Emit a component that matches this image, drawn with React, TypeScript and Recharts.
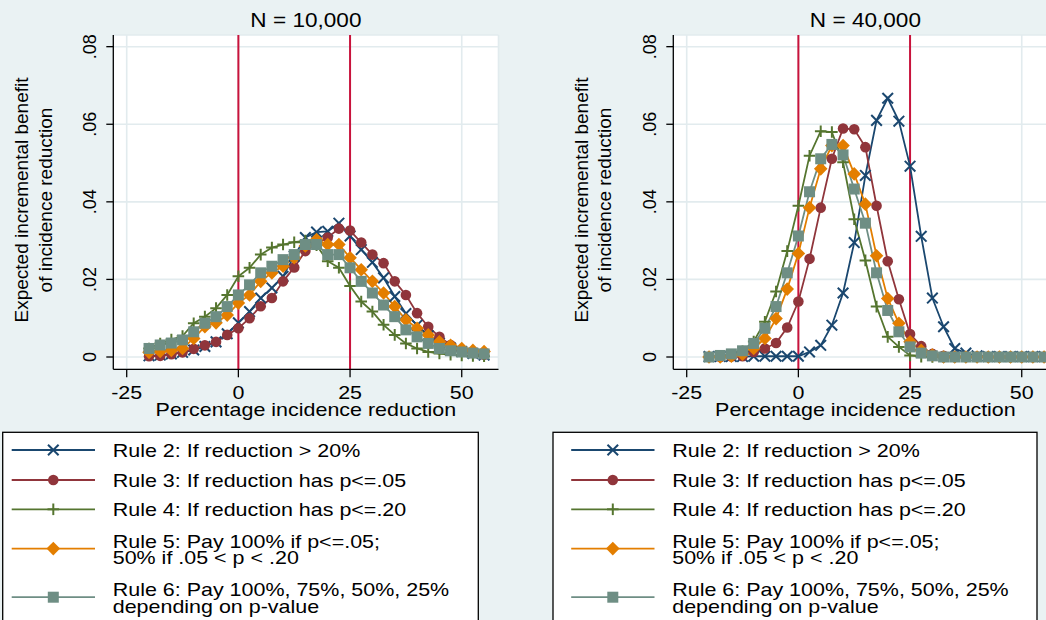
import React from "react";
import { LineChart, Line, XAxis, YAxis, CartesianGrid, ReferenceLine } from "recharts";

// ---------- data ----------
const xValues = [-20, -17.5, -15, -12.5, -10, -7.5, -5, -2.5, 0, 2.5, 5, 7.5, 10, 12.5, 15, 17.5, 20, 22.5, 25, 27.5, 30, 32.5, 35, 37.5, 40, 42.5, 45, 47.5, 50, 52.5, 55];

// N = 10,000
const n10Rule2 = [0.0003, 0.0005, 0.0008, 0.0012, 0.0018, 0.0027, 0.0039, 0.006, 0.0088, 0.0117, 0.0152, 0.0178, 0.0208, 0.026, 0.0308, 0.0322, 0.0324, 0.0345, 0.0312, 0.0277, 0.0244, 0.0204, 0.0156, 0.0112, 0.0082, 0.0055, 0.0036, 0.0023, 0.0014, 0.0009, 0.0005];
const n10Rule3 = [0.0002, 0.0003, 0.0007, 0.0012, 0.0021, 0.003, 0.0039, 0.0057, 0.0074, 0.01, 0.0131, 0.0152, 0.0195, 0.0231, 0.0273, 0.0292, 0.0308, 0.0331, 0.0326, 0.0295, 0.0264, 0.0242, 0.0195, 0.016, 0.0113, 0.0078, 0.0052, 0.0031, 0.0018, 0.0011, 0.0006];
const n10Rule4 = [0.0022, 0.0035, 0.0045, 0.0054, 0.0087, 0.0104, 0.0126, 0.016, 0.0208, 0.023, 0.0264, 0.0282, 0.029, 0.0296, 0.03, 0.0288, 0.0247, 0.023, 0.0183, 0.0143, 0.0117, 0.0083, 0.0057, 0.0035, 0.0022, 0.0013, 0.0009, 0.0006, 0.0004, 0.0003, 0.0002];
const n10Rule5 = [0.0012, 0.0014, 0.0017, 0.0022, 0.0048, 0.0078, 0.0088, 0.0108, 0.0139, 0.016, 0.0195, 0.0217, 0.0234, 0.0256, 0.0286, 0.0303, 0.029, 0.029, 0.0256, 0.0225, 0.0195, 0.0165, 0.013, 0.0096, 0.0074, 0.0057, 0.0039, 0.003, 0.0022, 0.0017, 0.0014];
const n10Rule6 = [0.0022, 0.0031, 0.0036, 0.0044, 0.0065, 0.0087, 0.0104, 0.013, 0.016, 0.0186, 0.0217, 0.0234, 0.0251, 0.0264, 0.029, 0.029, 0.0264, 0.0264, 0.023, 0.0195, 0.0165, 0.0134, 0.0104, 0.007, 0.0052, 0.0035, 0.0022, 0.0016, 0.0013, 0.001, 0.0008];

// N = 40,000
const n40Rule2 = [0.0001, 0.0001, 0.0001, 0.0001, 0.0002, 0.0002, 0.0002, 0.0002, 0.0002, 0.0013, 0.003, 0.0082, 0.0165, 0.0295, 0.0468, 0.061, 0.0667, 0.0608, 0.0492, 0.0311, 0.0152, 0.0078, 0.0022, 0.001, 0.0003, 0.0001, 0.0001, 0.0001, 0.0001, 0.0001, 0.0001];
const n40Rule3 = [0, 0, 0.0001, 0.0002, 0.0013, 0.0022, 0.0036, 0.0076, 0.0143, 0.0253, 0.0385, 0.0511, 0.0589, 0.0587, 0.0541, 0.039, 0.0247, 0.0149, 0.0059, 0.0028, 0.0008, 0.0003, 0.0001, 0.0001, 0.0001, 0, 0, 0, 0, 0, 0];
const n40Rule4 = [0, 0.0001, 0.0003, 0.0015, 0.004, 0.0091, 0.0169, 0.0273, 0.039, 0.0519, 0.0582, 0.058, 0.0502, 0.0355, 0.0249, 0.013, 0.0052, 0.0026, 0.0004, 0.0001, 0, 0, 0, 0, 0, 0, 0, 0, 0, 0, 0];
const n40Rule5 = [0, 0, 0.0002, 0.0007, 0.0022, 0.0048, 0.0099, 0.0175, 0.0267, 0.0385, 0.0485, 0.0545, 0.0545, 0.0472, 0.0394, 0.0261, 0.0151, 0.0087, 0.0039, 0.0017, 0.0005, 0, 0, 0, 0, 0, 0, 0, 0, 0, 0];
const n40Rule6 = [0, 0.0004, 0.0008, 0.0016, 0.0035, 0.0074, 0.013, 0.0217, 0.0312, 0.0426, 0.0511, 0.0548, 0.0521, 0.0433, 0.0345, 0.0217, 0.012, 0.0065, 0.0026, 0.001, 0.0003, 0, 0, 0, 0, 0, 0, 0, 0, 0, 0];

const xTicks = [-25, 0, 25, 50];
const xTickLabels = ["-25", "0", "25", "50"];
const yTicks = [0, 0.02, 0.04, 0.06, 0.08];
const yTickLabels = ["0", ".02", ".04", ".06", ".08"];
const referenceXs = [0, 25];

const panelTitles = ["N = 10,000", "N = 40,000"];
const xAxisTitle = "Percentage incidence reduction";
const yAxisTitleLines = ["Expected incremental benefit", "of incidence reduction"];

const seriesKeys = ["r2", "r3", "r4", "r5", "r6"];
const seriesColors = ["#1a476f", "#90353b", "#55752f", "#e37e00", "#6e8e84"];
const seriesMarkers = ["x", "circle", "plus", "diamond", "square"];
const legendLabels = [
  ["Rule 2: If reduction > 20%"],
  ["Rule 3: If reduction has p<=.05"],
  ["Rule 4: If reduction has p<=.20"],
  ["Rule 5: Pay 100% if p<=.05;", "50% if .05 < p < .20"],
  ["Rule 6: Pay 100%, 75%, 50%, 25%", "depending on p-value"],
];

// ---------- build tables ----------
function buildRows(s2: number[], s3: number[], s4: number[], s5: number[], s6: number[]) {
  return xValues.map((x, i) => ({ x, r2: s2[i], r3: s3[i], r4: s4[i], r5: s5[i], r6: s6[i] }));
}
const rows10 = buildRows(n10Rule2, n10Rule3, n10Rule4, n10Rule5, n10Rule6);
const rows40 = buildRows(n40Rule2, n40Rule3, n40Rule4, n40Rule5, n40Rule6);

// ---------- style / layout ----------
const FONT = '"Liberation Sans", Arial, Helvetica, sans-serif';
const SX = 1.13;
const BG = "#eaf2f3";
const GRID = "#e2ebee";
const REF = "#c8133c";
const CHART_W = 520;
const CHART_H = 440;
const PLOT_LEFT = 113.3;
const PLOT_RIGHT = 498.5;
const PLOT_TOP = 35;
const PLOT_BOTTOM = 369.3;
const X_MIN = -28.0;
const X_MAX = 58.23;
const Y_MIN = -0.00317;
const Y_MAX = 0.08301;
const PANEL_OFFSETS = [0, 559.5];
const LEGEND_BOXES = [
  { x: 2.7, w: 475.6 },
  { x: 553, w: 484 },
];

function renderMarker(kind: string, color: string, cx: number, cy: number, key: string) {
  if (cx == null || cy == null || isNaN(cx) || isNaN(cy)) return <g key={key} />;
  switch (kind) {
    case "x": {
      const s = 5.3;
      return (
        <g key={key}>
          <line x1={cx - s} y1={cy - s} x2={cx + s} y2={cy + s} stroke={color} strokeWidth={2} />
          <line x1={cx - s} y1={cy + s} x2={cx + s} y2={cy - s} stroke={color} strokeWidth={2} />
        </g>
      );
    }
    case "circle":
      return <circle key={key} cx={cx} cy={cy} r={5.3} fill={color} />;
    case "plus": {
      const s = 5.8;
      return (
        <g key={key}>
          <line x1={cx - s} y1={cy} x2={cx + s} y2={cy} stroke={color} strokeWidth={2} />
          <line x1={cx} y1={cy - s} x2={cx} y2={cy + s} stroke={color} strokeWidth={2} />
        </g>
      );
    }
    case "diamond": {
      const s = 6.8;
      return <polygon key={key} points={`${cx},${cy - s} ${cx + s},${cy} ${cx},${cy + s} ${cx - s},${cy}`} fill={color} />;
    }
    default: {
      const s = 5.5;
      return <rect key={key} x={cx - s} y={cy - s} width={2 * s} height={2 * s} fill={color} />;
    }
  }
}

function XTick(props: any) {
  const { x, payload } = props;
  const idx = xTicks.findIndex((t) => Math.abs(t - payload.value) < 1e-9);
  return (
    <text transform={`translate(${x},399) scale(${SX},1)`} textAnchor="middle" fontSize={19} fontFamily={FONT} fill="#000">
      {idx >= 0 ? xTickLabels[idx] : ""}
    </text>
  );
}

function YTick(props: any) {
  const { y, payload } = props;
  const idx = yTicks.findIndex((t) => Math.abs(t - payload.value) < 1e-9);
  const bx = 95.5;
  return (
    <text transform={`translate(${bx},${y}) rotate(-90)`} textAnchor="middle" fontSize={18} fontFamily={FONT} fill="#000">
      {idx >= 0 ? yTickLabels[idx] : ""}
    </text>
  );
}

function Panel({ rows, offsetX }: { rows: any[]; offsetX: number }) {
  return (
    <div style={{ position: "absolute", left: offsetX, top: 0, width: CHART_W, height: CHART_H }}>
      <LineChart
        width={CHART_W}
        height={CHART_H}
        data={rows}
        margin={{ top: PLOT_TOP, right: CHART_W - PLOT_RIGHT, bottom: 0, left: 0 }}
      >
        <CartesianGrid fill="#ffffff" stroke={GRID} strokeWidth={1.6} />
        <XAxis
          type="number"
          dataKey="x"
          domain={[X_MIN, X_MAX]}
          allowDataOverflow
          ticks={xTicks}
          interval={0}
          height={CHART_H - PLOT_BOTTOM}
          tickSize={8}
          tick={(p: any) => <XTick {...p} />}
          tickLine={{ stroke: "#000", strokeWidth: 1.3 }}
          axisLine={{ stroke: "#000", strokeWidth: 1.3 }}
        />
        <YAxis
          type="number"
          domain={[Y_MIN, Y_MAX]}
          allowDataOverflow
          ticks={yTicks}
          interval={0}
          width={PLOT_LEFT}
          tickSize={7}
          tick={(p: any) => <YTick {...p} />}
          tickLine={{ stroke: "#000", strokeWidth: 1.3 }}
          axisLine={{ stroke: "#000", strokeWidth: 1.3 }}
        />
        {referenceXs.map((v) => (
          <ReferenceLine key={`ref${v}`} x={v} stroke={REF} strokeWidth={2} />
        ))}
        {seriesKeys.map((k, si) => (
          <Line
            key={k}
            type="linear"
            dataKey={k}
            stroke={seriesColors[si]}
            strokeWidth={1.8}
            isAnimationActive={false}
            activeDot={false}
            dot={(p: any) => renderMarker(seriesMarkers[si], seriesColors[si], p.cx, p.cy, `${k}-${p.index}`)}
          />
        ))}
      </LineChart>
    </div>
  );
}

function Overlay() {
  const plotCenter = (PLOT_LEFT + PLOT_RIGHT) / 2;
  const rowCenters = [450, 480, 509.3, 548.6, 597.2];
  const lineCenters = [[450], [480], [509.3], [540.7, 557.3], [589.3, 606]];
  return (
    <svg width={1046} height={620} style={{ position: "absolute", left: 0, top: 0, pointerEvents: "none" }}>
      {PANEL_OFFSETS.map((off, pi) => (
        <g key={`p${pi}`} fontFamily={FONT} fill="#000">
          <text transform={`translate(${off + plotCenter},26.7) scale(${SX},1)`} textAnchor="middle" fontSize={20}>
            {panelTitles[pi]}
          </text>
          <text transform={`translate(${off + plotCenter},415.5) scale(${SX},1)`} textAnchor="middle" fontSize={19}>
            {xAxisTitle}
          </text>
          <text transform={`translate(${off + 28.3},200) rotate(-90)`} textAnchor="middle" fontSize={19}>
            {yAxisTitleLines[0]}
          </text>
          <text transform={`translate(${off + 51.7},200) rotate(-90)`} textAnchor="middle" fontSize={19}>
            {yAxisTitleLines[1]}
          </text>
        </g>
      ))}
      {LEGEND_BOXES.map((box, bi) => {
        const off = PANEL_OFFSETS[bi];
        return (
          <g key={`lg${bi}`}>
            <rect x={box.x} y={432.3} width={box.w} height={220} fill="#ffffff" stroke="#000" strokeWidth={1.3} />
            {seriesKeys.map((k, si) => (
              <g key={`le${k}`}>
                <line x1={off + 11.7} x2={off + 95} y1={rowCenters[si]} y2={rowCenters[si]} stroke={seriesColors[si]} strokeWidth={1.8} />
                {renderMarker(seriesMarkers[si], seriesColors[si], off + 53.3, rowCenters[si], `lm${k}`)}
                {legendLabels[si].map((t, li) => (
                  <text
                    key={`lt${li}`}
                    transform={`translate(${off + 112.7},${lineCenters[si][li] + 6.8}) scale(${SX},1)`}
                    fontSize={19}
                    fontFamily={FONT}
                    fill="#000"
                  >
                    {t}
                  </text>
                ))}
              </g>
            ))}
          </g>
        );
      })}
    </svg>
  );
}

export default function App() {
  return (
    <div
      style={{
        position: "absolute",
        left: 0,
        top: 0,
        width: 1046,
        height: 620,
        overflow: "hidden",
        background: BG,
      }}
    >
      <Panel rows={rows10} offsetX={PANEL_OFFSETS[0]} />
      <Panel rows={rows40} offsetX={PANEL_OFFSETS[1]} />
      <Overlay />
    </div>
  );
}
